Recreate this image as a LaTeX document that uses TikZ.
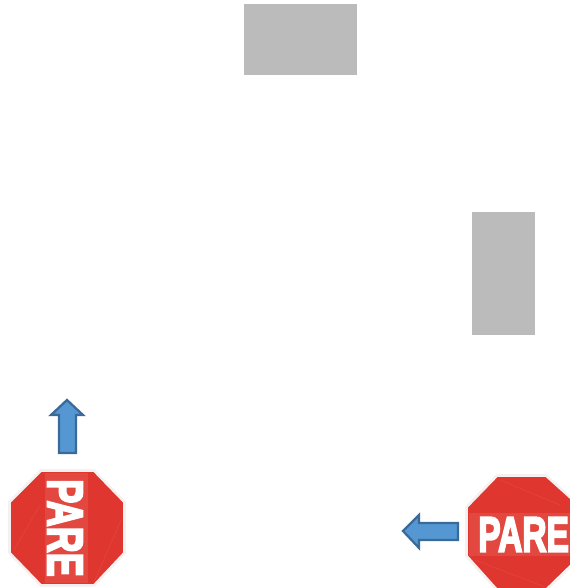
\documentclass[tikz,border=0pt]{standalone}
\usepackage{graphicx}
\usepackage{fontspec}
\setmainfont{Liberation Sans}
\newfontfamily\signfont[FakeBold=4.5]{Liberation Sans Bold}
\definecolor{blockgray}{HTML}{BBBBBB}
\definecolor{signred}{HTML}{DF3730}
\definecolor{signband}{HTML}{E24840}
\definecolor{halo}{HTML}{F6F1F0}
\definecolor{arrowfill}{HTML}{5597D2}
\definecolor{arrowline}{HTML}{3A6A9A}
\tikzset{
  block/.style={fill=blockgray,draw=none},
  octa/.style={fill=signred,draw=halo,line width=2pt,line join=round},
  pointer/.style={fill=arrowfill,draw=arrowline,line width=1.7pt,line join=miter},
  signtext/.style={text=white,inner sep=0pt,font=\signfont},
  streak/.style={draw=signred!92!white,line width=0.4pt}
}
\begin{document}
\begin{tikzpicture}[x=0.75pt,y=-0.75pt]
\useasboundingbox (0,0) rectangle (570,588);
\clip (0,0) rectangle (570,588);
\fill[block] (244,4) rectangle (357,75);
\fill[block] (472,212) rectangle (535,335);
% left sign
\draw[octa] (41,470.5) -- (94,470.5) -- (124.5,502) -- (124.5,553) -- (94,585.5) -- (41,585.5) -- (9.5,553) -- (9.5,502) -- cycle;
\fill[signband] (45,473) rectangle (88,583);
\draw[streak] (14,550) -- (40,505);
\draw[streak] (95,580) -- (121,520);
\node[signtext,rotate=-90] (pareleft) at (65,528) {\resizebox{73pt}{26pt}{PARE}};
% right sign
\draw[octa] (497,475.5) -- (546,475.5) -- (581,507) -- (581,556) -- (546,590) -- (497,590) -- (466.5,556) -- (466.5,507) -- cycle;
\fill[signband] (469,513) rectangle (570,556);
\draw[streak] (500,480) -- (560,505);
\draw[streak] (475,560) -- (545,587);
\node[signtext,anchor=west] (pareright) at (478,534.5) {\resizebox{68pt}{25.5pt}{PARE}};
% arrows
\draw[pointer] (67,400) -- (83,415) -- (76,415) -- (76,453) -- (59,453) -- (59,415) -- (51,415) -- cycle;
\draw[pointer] (403,531) -- (419,515) -- (419,523) -- (458,523) -- (458,540) -- (419,540) -- (419,548) -- cycle;
\end{tikzpicture}
\end{document}
